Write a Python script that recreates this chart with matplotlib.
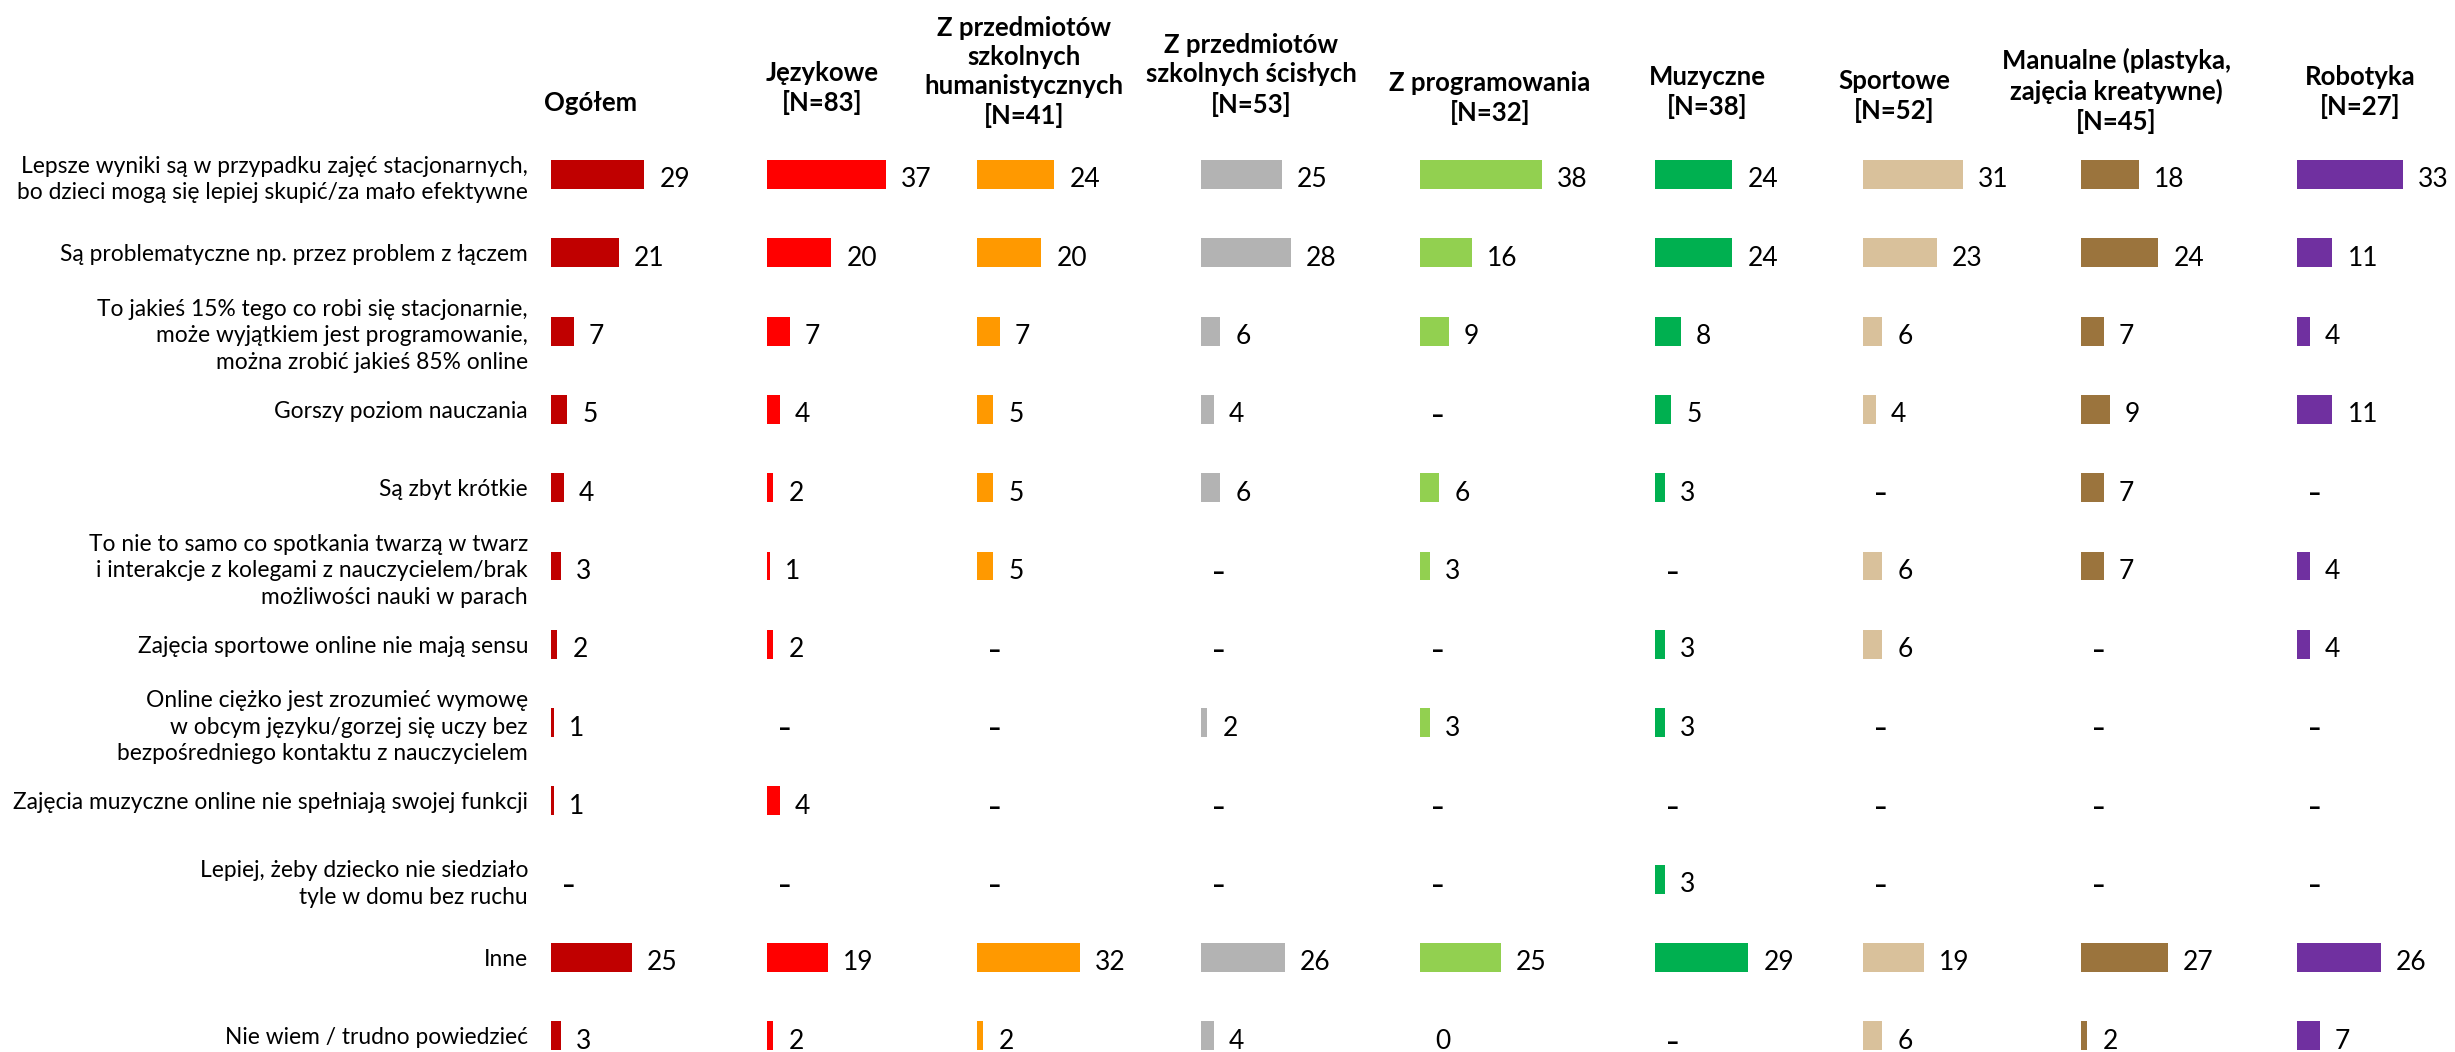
import numpy as np
import matplotlib.pyplot as plt

plt.rcParams['font.family'] = ['Lato', 'DejaVu Sans']

# row categories (top to bottom)
rows = [
    "Lepsze wyniki są w przypadku zajęć stacjonarnych,\nbo dzieci mogą się lepiej skupić/za mało efektywne",
    "Są problematyczne np. przez problem z łączem",
    "To jakieś 15% tego co robi się stacjonarnie,\nmoże wyjątkiem jest programowanie,\nmożna zrobić jakieś 85% online",
    "Gorszy poziom nauczania",
    "Są zbyt krótkie",
    "To nie to samo co spotkania twarzą w twarz\ni interakcje z kolegami z nauczycielem/brak\nmożliwości nauki w parach",
    "Zajęcia sportowe online nie mają sensu",
    "Online ciężko jest zrozumieć wymowę\nw obcym języku/gorzej się uczy bez\nbezpośredniego kontaktu z nauczycielem",
    "Zajęcia muzyczne online nie spełniają swojej funkcji",
    "Lepiej, żeby dziecko nie siedziało\ntyle w domu bez ruchu",
    "Inne",
    "Nie wiem / trudno powiedzieć",
]

headers = [
    "Ogółem",
    "Językowe\n[N=83]",
    "Z przedmiotów\nszkolnych\nhumanistycznych\n[N=41]",
    "Z przedmiotów\nszkolnych ścisłych\n[N=53]",
    "Z programowania\n[N=32]",
    "Muzyczne\n[N=38]",
    "Sportowe\n[N=52]",
    "Manualne (plastyka,\nzajęcia kreatywne)\n[N=45]",
    "Robotyka\n[N=27]",
]

# None = "–" (no answers)
ogolem = [29, 21, 7, 5, 4, 3, 2, 1, 1, None, 25, 3]
jezykowe = [37, 20, 7, 4, 2, 1, 2, None, 4, None, 19, 2]
humanistyczne = [24, 20, 7, 5, 5, 5, None, None, None, None, 32, 2]
scisle = [25, 28, 6, 4, 6, None, None, 2, None, None, 26, 4]
programowanie = [38, 16, 9, None, 6, 3, None, 3, None, None, 25, 0]
muzyczne = [24, 24, 8, 5, 3, None, 3, 3, None, 3, 29, None]
sportowe = [31, 23, 6, 4, None, 6, 6, None, None, None, 19, 6]
manualne = [18, 24, 7, 9, 7, 7, None, None, None, None, 27, 2]
robotyka = [33, 11, 4, 11, None, 4, 4, None, None, None, 26, 7]

columns = [ogolem, jezykowe, humanistyczne, scisle, programowanie,
           muzyczne, sportowe, manualne, robotyka]
colors = ["#C00000", "#FF0000", "#FF9900", "#B3B3B3", "#92D050",
          "#00B050", "#D9C19B", "#9B743D", "#7030A0"]

# layout in pixels
W, H, DPI = 2455, 1052, 100
bar_left_px = [551, 767, 977, 1201, 1420, 1655, 1863, 2081, 2297]
head_x_px = [591, 822, 1024, 1251, 1490, 1707, 1894, 2116, 2360]
head_y_px = [103, 88, 72, 75, 98, 92, 96, 91, 92]
px_per_unit = 3.22
row_top_px = 174.5
row_step_px = 78.3
col_w_px = 210

fig = plt.figure(figsize=(W / DPI, H / DPI), dpi=DPI)

n = len(rows)
y_bottom = (H - row_top_px) / row_step_px
ax_top_px = row_top_px - 0.5 * row_step_px
ypos = np.arange(n)

for i, (vals, color) in enumerate(zip(columns, colors)):
    ax = fig.add_axes([bar_left_px[i] / W, 0, col_w_px / W, (H - ax_top_px) / H])
    ax.set_xlim(0, col_w_px / px_per_unit)
    ax.set_ylim(y_bottom, -0.5)
    widths = [0 if v is None else v for v in vals]
    ax.barh(ypos, widths, height=0.37, color=color)
    gap = 15 / px_per_unit
    for y, v in zip(ypos, vals):
        if v is None:
            ax.text(18 / px_per_unit, y + 0.08, "–", ha="center", va="center",
                    fontsize=17, fontweight="black")
        else:
            ax.text(v + gap, y + 0.07, str(v), ha="left", va="center", fontsize=19)
    for s in ax.spines.values():
        s.set_visible(False)
    ax.set_xticks([])
    if i == 0:
        ax.set_yticks(ypos)
        ax.set_yticklabels(rows, fontsize=16.4, linespacing=1.32)
        ax.tick_params(axis="y", length=0, pad=23 * 72 / DPI)
    else:
        ax.set_yticks([])
    fig.text(head_x_px[i] / W, 1 - head_y_px[i] / H, headers[i], ha="center",
             va="center", fontsize=18.5, fontweight="bold", linespacing=1.25)

fig.savefig("out.png", dpi=DPI)
